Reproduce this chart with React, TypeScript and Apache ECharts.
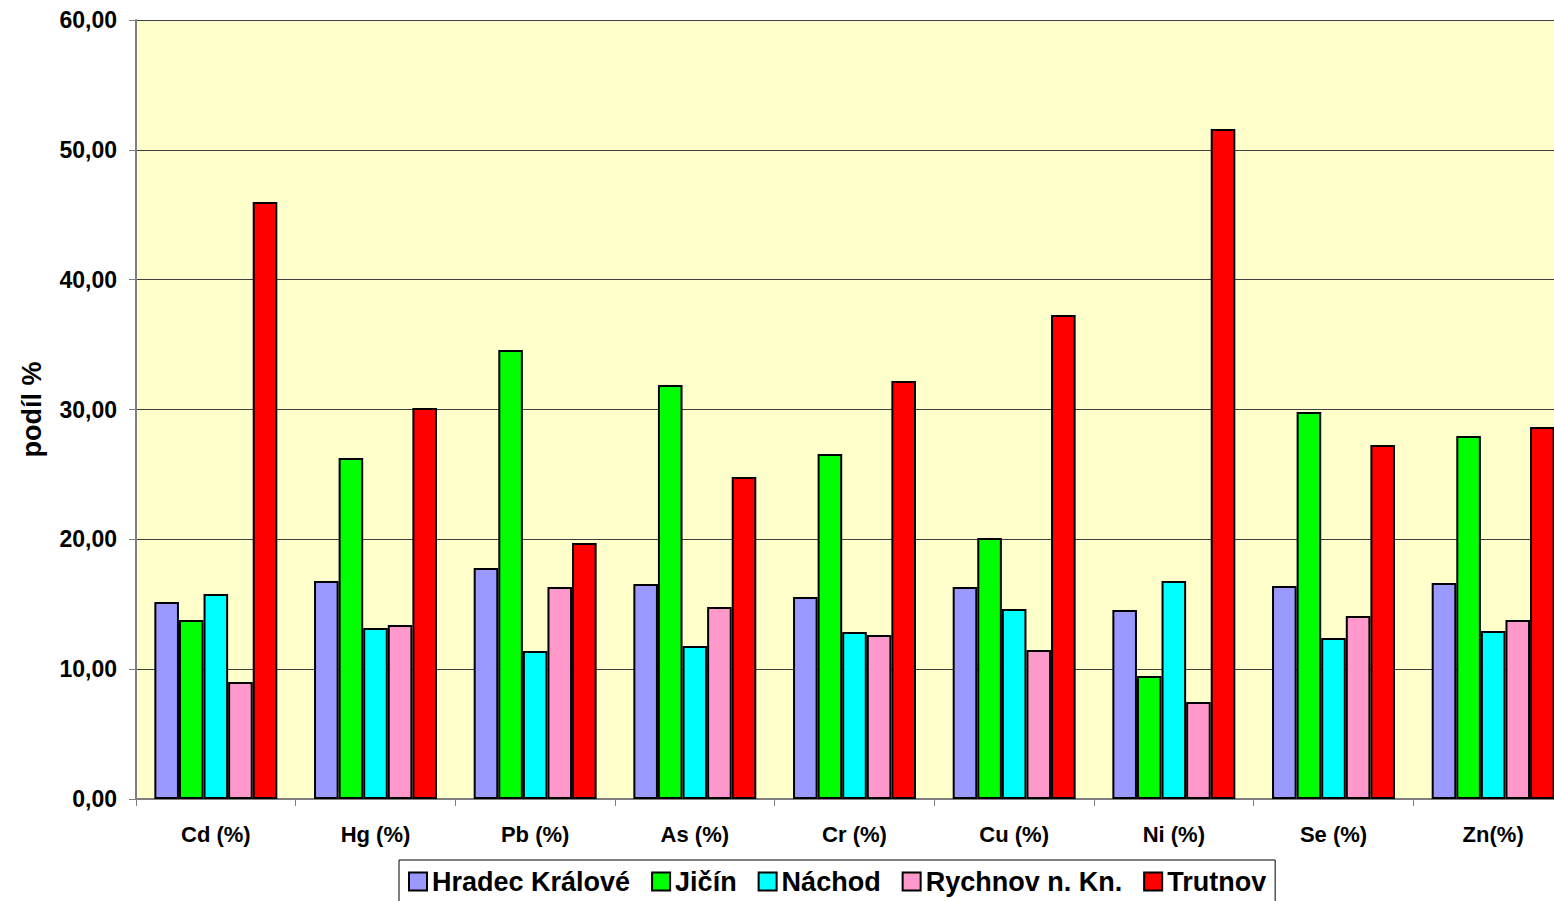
import React, { useEffect, useRef } from "react";
import * as echarts from "echarts";

const categories = ["Cd (%)", "Hg (%)", "Pb (%)", "As (%)", "Cr (%)", "Cu (%)", "Ni (%)", "Se (%)", "Zn(%)"];
const seriesNames = ["Hradec Králové", "Jičín", "Náchod", "Rychnov n. Kn.", "Trutnov"];
const hradecKralove = [15.17, 16.79, 17.79, 16.56, 15.56, 16.33, 14.56, 16.41, 16.64];
const jicin = [13.79, 26.26, 34.58, 31.89, 26.57, 20.1, 9.47, 29.81, 27.96];
const nachod = [15.79, 13.17, 11.4, 11.78, 12.86, 14.63, 16.79, 12.4, 12.94];
const rychnov = [9.01, 13.4, 16.33, 14.79, 12.63, 11.48, 7.47, 14.1, 13.79];
const trutnov = [45.98, 30.12, 19.72, 24.8, 32.2, 37.28, 51.6, 27.27, 28.65];
const seriesData = [hradecKralove, jicin, nachod, rychnov, trutnov];
const colors = ["#9999FF", "#00FF00", "#00FFFF", "#FF99CC", "#FF0000"];
const yTicks = { min: 0, max: 60, interval: 10 };

export default function App() {
  const ref = useRef<HTMLDivElement>(null);
  useEffect(() => {
    if (!ref.current) return;
    const chart = echarts.init(ref.current, undefined, { renderer: "svg" });
    const font = "Arial, 'Liberation Sans', sans-serif";
    chart.setOption({
      animation: false,
      backgroundColor: "#ffffff",
      grid: {
        left: 136,
        top: 20,
        width: 1437,
        height: 779,
        outerBoundsMode: "none",
        containLabel: false,
        show: true,
        backgroundColor: "#FFFFCC",
        borderWidth: 0,
      },
      legend: {
        left: 399,
        top: 860,
        padding: [8, 9, 14, 9],
        itemGap: 21,
        itemWidth: 18,
        itemHeight: 18,
        borderColor: "#000",
        borderWidth: 1,
        backgroundColor: "#fff",
        icon: "rect",
        textStyle: { fontFamily: font, fontWeight: "bold", fontSize: 27, color: "#000" },
        itemStyle: { borderColor: "#000", borderWidth: 2 },
        data: seriesNames,
      },
      xAxis: {
        type: "category",
        data: categories,
        axisLine: { lineStyle: { color: "#808080", width: 2 } },
        axisTick: { show: true, length: 7, lineStyle: { color: "#808080", width: 1 } },
        axisLabel: {
          margin: 24,
          fontFamily: font,
          fontWeight: "bold",
          fontSize: 22,
          color: "#000",
          interval: 0,
        },
      },
      yAxis: {
        type: "value",
        min: yTicks.min,
        max: yTicks.max,
        interval: yTicks.interval,
        name: "podíl %",
        nameLocation: "middle",
        nameGap: 91,
        nameRotate: 90,
        nameTextStyle: { fontFamily: font, fontWeight: "bold", fontSize: 27, color: "#000" },
        axisLine: { show: true, lineStyle: { color: "#808080", width: 2 } },
        axisTick: { show: true, length: 7, lineStyle: { color: "#808080", width: 1 } },
        splitLine: { show: true, lineStyle: { color: "#404040", width: 1 } },
        axisLabel: {
          margin: 19,
          fontFamily: font,
          fontWeight: "bold",
          fontSize: 23,
          color: "#000",
          formatter: (v: number) => v.toFixed(2).replace(".", ","),
        },
      },
      series: seriesNames.map((name, i) => ({
        name,
        type: "bar",
        data: seriesData[i],
        barGap: "0%",
        barCategoryGap: "23%",
        itemStyle: { color: colors[i], borderColor: "#000", borderWidth: 2 },
      })),
    });
    return () => chart.dispose();
  }, []);
  return (
    <div
      ref={ref}
      style={{ position: "absolute", left: 0, top: 0, width: 1554, height: 901 }}
    />
  );
}
